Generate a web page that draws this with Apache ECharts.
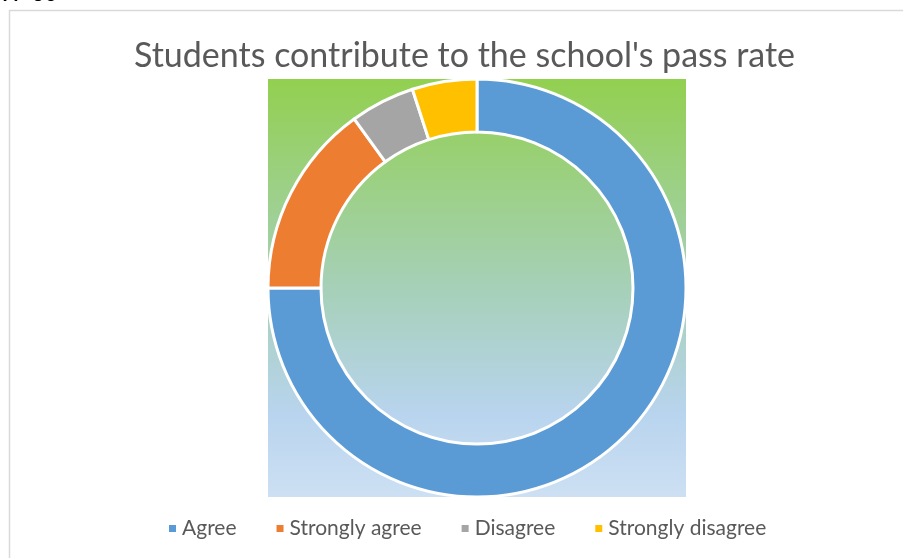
<!DOCTYPE html>
<html>
<head>
<meta charset="utf-8">
<script src="https://cdn.jsdelivr.net/npm/echarts@6/dist/echarts.min.js"></script>
<style>
html,body{margin:0;padding:0;background:#fff;}
#main{width:903px;height:558px;}
</style>
</head>
<body>
<div id="main"></div>
<script>
const titleText = "Students contribute to the school's pass rate";
const noteText = "N=30";
const categories = ["Agree", "Strongly agree", "Disagree", "Strongly disagree"];
const values = [15, 3, 1, 1];
const colors = ["#5B9BD5", "#ED7D31", "#A5A5A5", "#FFC000"];

const chart = echarts.init(document.getElementById('main'));
const font = 'Lato, "Open Sans", sans-serif';
chart.setOption({
  animation: false,
  backgroundColor: '#ffffff',
  title: {
    text: titleText,
    left: 129,
    top: 34,
    textStyle: { fontFamily: font, fontSize: 34, fontWeight: 'normal', color: '#595959' }
  },
  legend: {
    bottom: 14,
    left: 162,
    icon: 'rect',
    itemWidth: 9,
    itemHeight: 9,
    itemGap: 38,
    textStyle: { fontFamily: font, fontSize: 21, color: '#595959' },
    data: categories
  },
  graphic: [
    {
      type: 'rect', z: 0, silent: true,
      shape: { x: 9.5, y: 10.5, width: 920, height: 560 },
      style: { fill: 'none', stroke: '#D9D9D9', lineWidth: 1.5 }
    },
    {
      type: 'text', z: 1, silent: true,
      left: 2, top: -17,
      style: { text: noteText, font: 'bold 22px ' + font, fill: '#000' }
    },
    {
      type: 'rect', z: 0, silent: true,
      shape: { x: 268, y: 79, width: 418, height: 418 },
      style: {
        fill: new echarts.graphic.LinearGradient(0, 0, 0, 1, [
          { offset: 0, color: '#92D050' },
          { offset: 0.5, color: '#A6D0B8' },
          { offset: 0.8, color: '#B8D4EE' },
          { offset: 1, color: '#CDE0F3' }
        ])
      }
    }
  ],
  series: [{
    type: 'pie',
    z: 5,
    center: [477, 288],
    radius: [156, 209],
    startAngle: 90,
    clockwise: true,
    label: { show: false },
    labelLine: { show: false },
    emphasis: { disabled: true },
    itemStyle: { borderColor: '#ffffff', borderWidth: 3 },
    data: categories.map((c, i) => ({ name: c, value: values[i], itemStyle: { color: colors[i] } }))
  }]
});
</script>
</body>
</html>
